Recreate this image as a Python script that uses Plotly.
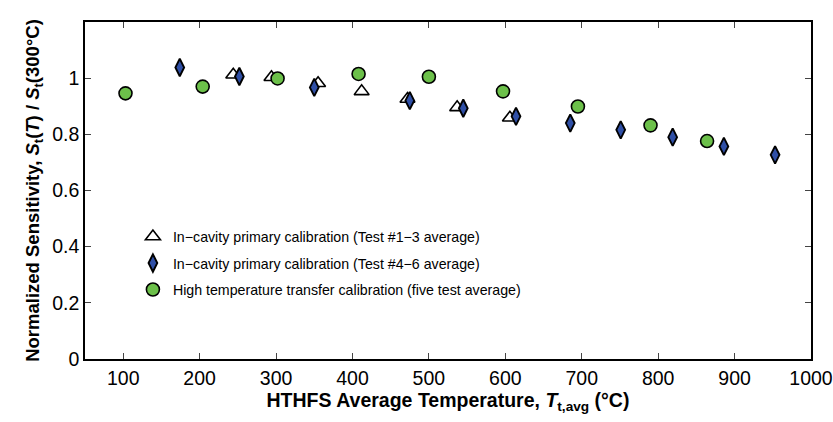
import plotly.graph_objects as go

tri_x = [244, 294, 355, 412, 472, 537, 606]
tri_y = [1.012, 1.003, 0.982, 0.953, 0.926, 0.896, 0.859]

dia_x = [174, 252, 350, 475, 545, 614, 685, 751, 819, 886, 953]
dia_y = [1.038, 1.006, 0.967, 0.920, 0.893, 0.864, 0.840, 0.816, 0.790, 0.757, 0.727]

cir_x = [103, 204, 302, 408, 500, 597, 695, 790, 864]
cir_y = [0.946, 0.970, 0.999, 1.015, 1.005, 0.953, 0.899, 0.832, 0.776]

x_ticks = [100, 200, 300, 400, 500, 600, 700, 800, 900, 1000]
y_ticks = [0, 0.2, 0.4, 0.6, 0.8, 1.0]
y_ticktext = ["0", "0.2", "0.4", "0.6", "0.8", "1"]

names = [
    "In\u2212cavity primary calibration (Test #1\u22123 average)",
    "In\u2212cavity primary calibration (Test #4\u22126 average)",
    "High temperature transfer calibration (five test average)",
]

FONT = "Arial, Liberation Sans, sans-serif"

fig = go.Figure()
fig.add_trace(go.Scatter(
    x=tri_x, y=tri_y, mode="markers", name=names[0], legendgroup="a",
    marker=dict(symbol="triangle-up", size=13, color="white",
                line=dict(color="black", width=1.6)),
))
fig.add_trace(go.Scatter(
    x=dia_x, y=dia_y, mode="markers", name=names[1], legendgroup="b",
    marker=dict(symbol="diamond-tall", size=12.5, color="#2f4fa6",
                line=dict(color="black", width=1.9)),
))
fig.add_trace(go.Scatter(
    x=cir_x, y=cir_y, mode="markers", name=names[2], legendgroup="c",
    marker=dict(symbol="circle", size=13, color="#6cc04a",
                line=dict(color="black", width=1.6)),
))

fig.update_layout(
    width=833, height=422,
    margin=dict(l=85, r=22, t=22, b=63),
    paper_bgcolor="white", plot_bgcolor="white",
    font=dict(family=FONT, color="black", size=19),
    legend=dict(
        x=0.066, y=0.41, xanchor="left", yanchor="top",
        bgcolor="rgba(0,0,0,0)", font=dict(size=14.2),
        traceorder="grouped", tracegroupgap=5, itemsizing="trace",
    ),
    xaxis=dict(
        range=[50, 1000], tickvals=x_ticks, ticks="inside", ticklen=6,
        showline=True, linecolor="black", linewidth=1.5, mirror="ticks",
        showgrid=False, zeroline=False, tickfont=dict(size=19.5),
        automargin=False, ticklabelstandoff=1, ticklabeloverflow="allow",
        title=dict(
            text="<b>HTHFS Average Temperature, <i>T</i><sub>t,avg</sub> (°C)</b>",
            font=dict(size=19.5), standoff=0),
    ),
    yaxis=dict(
        range=[0, 1.2], tickvals=y_ticks, ticktext=y_ticktext,
        ticks="inside", ticklen=6,
        showline=True, linecolor="black", linewidth=1.5, mirror="ticks",
        showgrid=False, zeroline=False, tickfont=dict(size=19.5),
        automargin=False,
        title=dict(
            text="<b>Normalized Sensitivity, <i>S</i><sub>t</sub>(<i>T</i>) / <i>S</i><sub>t</sub>(300°C)</b>",
            font=dict(size=18.5), standoff=8),
    ),
)

fig.write_html("out.html")
